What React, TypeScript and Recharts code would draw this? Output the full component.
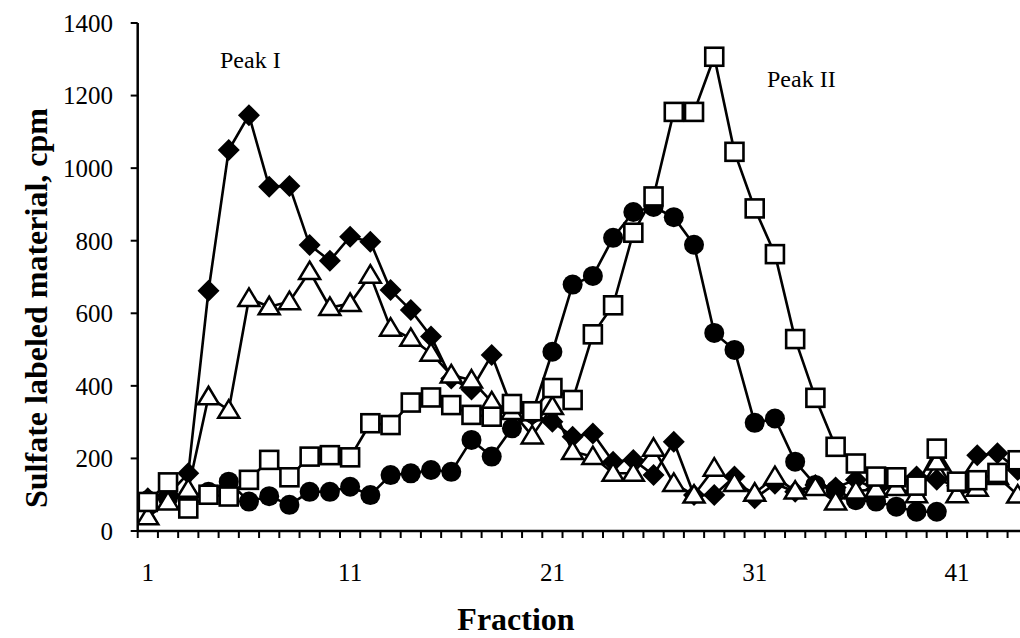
import React from 'react';
import { LineChart, Line, XAxis, YAxis } from 'recharts';

// fraction numbers (categories)
const fractions = [
  1, 2, 3, 4, 5, 6, 7, 8, 9, 10, 11, 12, 13, 14, 15, 16, 17, 18, 19, 20, 21, 22,
  23, 24, 25, 26, 27, 28, 29, 30, 31, 32, 33, 34, 35, 36, 37, 38, 39, 40, 41, 42, 43, 44,
];

// filled diamonds
const diamondCpm = [
  90, 100, 159, 662, 1050, 1146, 949, 951, 788, 745, 811, 797, 664, 609, 536, 420, 390, 485, 338, 320, 301, 260,
  269, 191, 196, 154, 246, 99, 99, 150, 90, 130, 108, 127, 120, 141, 115, 130, 150, 141, 125, 209, 214, 168,
];

// open triangles
const triangleCpm = [
  39, 80, 115, 370, 333, 641, 618, 632, 715, 616, 627, 705, 559, 531, 490, 430, 416, 356, 329, 262, 343, 219,
  205, 159, 159, 228, 131, 99, 173, 131, 104, 150, 110, 120, 80, 110, 115, 120, 100, 190, 100, 118, 150, 99,
];

// open squares
const squareCpm = [
  80, 134, 62, 100, 95, 141, 196, 148, 205, 209, 203, 297, 292, 354, 368, 347, 320, 315, 350, 330, 394, 361,
  542, 622, 822, 922, 1155, 1155, 1307, 1045, 889, 763, 529, 367, 232, 186, 150, 148, 125, 227, 136, 140, 160, 195,
];

// filled circles (no readings after fraction 40)
const circleCpm = [
  85, 90, 95, 108, 136, 81, 96, 72, 108, 108, 122, 99, 154, 159, 168, 163, 251, 205, 283, 324, 494, 679,
  703, 808, 879, 893, 865, 789, 546, 499, 298, 310, 191, 127, 113, 85, 81, 67, 53, 53, null, null, null, null,
];

const xLabelTicks = [1, 11, 21, 31, 41];
const yTicks = [0, 200, 400, 600, 800, 1000, 1200, 1400];

const data = fractions.map((f, i) => ({
  fraction: f,
  diamond: diamondCpm[i],
  triangle: triangleCpm[i],
  square: squareCpm[i],
  circle: circleCpm[i],
}));

// tick marks sit on the boundaries between fractions
const boundaryTicks = [...fractions.map((f) => f - 0.5), 44.5];

const FONT = '"Liberation Serif", "Times New Roman", serif';

// plot geometry: 44 fractions across the plot width
const PLOT_W = 890.1;
const HALF_STEP = PLOT_W / 44 / 2;

// label drawn half a step right of the boundary tick, only for 1, 11, 21...
const FractionLabel = (props: any) => {
  const { x, y, payload } = props;
  const v = payload.value + 0.5;
  if (!xLabelTicks.includes(v)) return <g />;
  return (
    <text x={x + HALF_STEP} y={y} textAnchor="middle" fontFamily={FONT} fontSize={25} fill="#000">
      {v}
    </text>
  );
};

const DiamondDot = (props: any) => {
  const { cx, cy, index } = props;
  if (cx == null || cy == null) return <g key={`d-${index}`} />;
  const r = 11;
  return (
    <polygon
      key={`d-${index}`}
      points={`${cx},${cy - r} ${cx + r},${cy} ${cx},${cy + r} ${cx - r},${cy}`}
      fill="#000"
    />
  );
};

const TriangleDot = (props: any) => {
  const { cx, cy, index } = props;
  if (cx == null || cy == null) return <g key={`t-${index}`} />;
  return (
    <polygon
      key={`t-${index}`}
      points={`${cx},${cy - 10} ${cx + 10.5},${cy + 7.5} ${cx - 10.5},${cy + 7.5}`}
      fill="#fff"
      stroke="#000"
      strokeWidth={2.5}
    />
  );
};

const SquareDot = (props: any) => {
  const { cx, cy, index } = props;
  if (cx == null || cy == null) return <g key={`s-${index}`} />;
  return (
    <rect
      key={`s-${index}`}
      x={cx - 9}
      y={cy - 9}
      width={18}
      height={18}
      fill="#fff"
      stroke="#000"
      strokeWidth={2.6}
    />
  );
};

const CircleDot = (props: any) => {
  const { cx, cy, index } = props;
  if (cx == null || cy == null) return <g key={`c-${index}`} />;
  return <circle key={`c-${index}`} cx={cx} cy={cy} r={10} fill="#000" />;
};

export default function App() {
  return (
    <div
      style={{
        position: 'absolute',
        left: 0,
        top: 0,
        width: 1020,
        height: 638,
        overflow: 'hidden',
        background: '#fff',
      }}
    >
      <LineChart
        width={1040}
        height={638}
        data={data}
        margin={{ top: 23, right: 12.2, bottom: 77, left: 57.7 }}
      >
        <XAxis
          type="number"
          dataKey="fraction"
          domain={[0.5, 44.5]}
          allowDataOverflow
          ticks={boundaryTicks}
          interval={0}
          height={30}
          tickSize={7}
          tickMargin={43}
          axisLine={{ stroke: '#000', strokeWidth: 2.5 }}
          tickLine={{ stroke: '#000', strokeWidth: 2 }}
          tick={<FractionLabel />}
        />
        <YAxis
          type="number"
          domain={[0, 1400]}
          ticks={yTicks}
          interval={0}
          width={80}
          tickSize={7}
          tickMargin={17.7}
          axisLine={{ stroke: '#000', strokeWidth: 2.5 }}
          tickLine={{ stroke: '#000', strokeWidth: 2 }}
          tick={{ fill: '#000', fontSize: 25, fontFamily: FONT }}
        />
        <Line
          type="linear"
          dataKey="circle"
          stroke="#000"
          strokeWidth={2.6}
          dot={CircleDot}
          activeDot={false}
          connectNulls={false}
          isAnimationActive={false}
        />
        <Line
          type="linear"
          dataKey="diamond"
          stroke="#000"
          strokeWidth={2.6}
          dot={DiamondDot}
          activeDot={false}
          isAnimationActive={false}
        />
        <Line
          type="linear"
          dataKey="triangle"
          stroke="#000"
          strokeWidth={2.6}
          dot={TriangleDot}
          activeDot={false}
          isAnimationActive={false}
        />
        <Line
          type="linear"
          dataKey="square"
          stroke="#000"
          strokeWidth={2.6}
          dot={SquareDot}
          activeDot={false}
          isAnimationActive={false}
        />
      </LineChart>
      <svg
        width={1020}
        height={638}
        style={{ position: 'absolute', left: 0, top: 0, pointerEvents: 'none' }}
      >
        <text
          transform="translate(47, 308) rotate(-90)"
          textAnchor="middle"
          fontFamily={FONT}
          fontWeight="bold"
          fontSize={32}
          fill="#000"
        >
          Sulfate labeled material, cpm
        </text>
        <text x={516} y={630} textAnchor="middle" fontFamily={FONT} fontWeight="bold" fontSize={32} fill="#000">
          Fraction
        </text>
        <text x={220} y={68} fontFamily={FONT} fontSize={24} fill="#000">
          Peak I
        </text>
        <text x={767} y={87} fontFamily={FONT} fontSize={24} fill="#000">
          Peak II
        </text>
      </svg>
    </div>
  );
}
